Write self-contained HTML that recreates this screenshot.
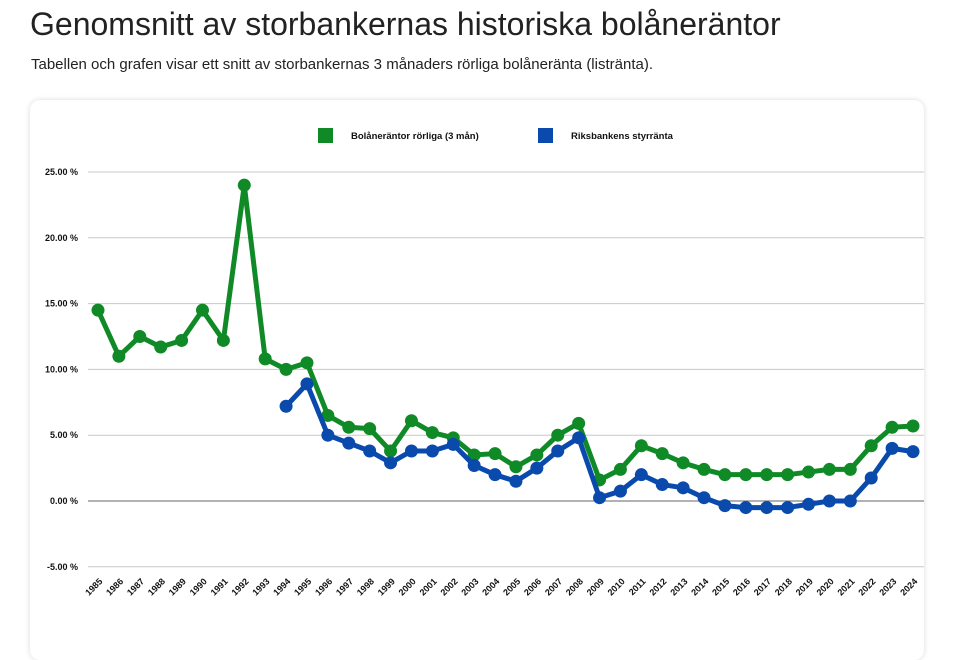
<!DOCTYPE html>
<html><head><meta charset="utf-8"><style>
body{margin:0;width:956px;height:625px;overflow:hidden;background:#fff;font-family:"Liberation Sans",sans-serif;}
h1{position:absolute;left:30px;top:6px;margin:0;font-size:32px;font-weight:400;color:#222;}
p{position:absolute;left:31px;top:56px;margin:0;font-size:15px;color:#222;}
.card{position:absolute;left:30px;top:100px;width:894px;height:560px;border-radius:10px;box-shadow:0 0 6px rgba(0,0,0,0.15);background:#fff;}
svg{position:absolute;left:0;top:0;}
</style></head><body>
<h1>Genomsnitt av storbankernas historiska bolåneräntor</h1>
<p>Tabellen och grafen visar ett snitt av storbankernas 3 månaders rörliga bolåneränta (listränta).</p>
<div class="card"></div>
<svg id="chart" width="956" height="625" font-family="Liberation Sans, sans-serif"></svg>
<script>
const years=[1985,1986,1987,1988,1989,1990,1991,1992,1993,1994,1995,1996,1997,1998,1999,2000,2001,2002,2003,2004,2005,2006,2007,2008,2009,2010,2011,2012,2013,2014,2015,2016,2017,2018,2019,2020,2021,2022,2023,2024];
const mortgageRates=[14.5,11.0,12.5,11.7,12.2,14.5,12.2,24.0,10.8,10.0,10.5,6.5,5.6,5.5,3.8,6.1,5.2,4.8,3.5,3.6,2.6,3.5,5.0,5.9,1.6,2.4,4.2,3.6,2.9,2.4,2.0,2.0,2.0,2.0,2.2,2.4,2.4,4.2,5.6,5.7];
const policyRates=[null,null,null,null,null,null,null,null,null,7.2,8.9,5.0,4.4,3.8,2.9,3.8,3.8,4.3,2.7,2.0,1.5,2.5,3.8,4.8,0.25,0.75,2.0,1.25,1.0,0.25,-0.35,-0.5,-0.5,-0.5,-0.25,0,0,1.75,4.0,3.75];
const yTicks=[-5,0,5,10,15,20,25];
const tickLabels=["-5.00 %","0.00 %","5.00 %","10.00 %","15.00 %","20.00 %","25.00 %"];
const svg=document.getElementById('chart');const NS='http://www.w3.org/2000/svg';
const yS=v=>501-v*13.16;
const xS=i=>98+i*(913-98)/(years.length-1);
function mk(t,a){const e=document.createElementNS(NS,t);for(const k in a)e.setAttribute(k,a[k]);svg.appendChild(e);return e;}
yTicks.forEach((v,i)=>{
 const l=mk('line',{x1:88,x2:924,y1:yS(v),y2:yS(v),stroke:v===0?'#666':'#c8c8c8','stroke-width':1});
 
 
 const t=mk('text',{x:78,y:yS(v)+3,'text-anchor':'end','font-size':9,'font-weight':'bold',fill:'#111'});
 t.textContent=tickLabels[i];
 
 
});
years.forEach((y,i)=>{
 const t=mk('text',{x:0,y:0,'text-anchor':'end','font-size':9,'font-weight':'bold',fill:'#111',transform:`translate(${xS(i)+5},${582}) rotate(-45)`});
 t.textContent=y;
 
 
});
function series(vals,color,name){
 let d='';vals.forEach((v,i)=>{if(v===null)return;d+=(d?'L':'M')+xS(i)+' '+yS(v);});
 const p=mk('path',{d:d,fill:'none',stroke:color,'stroke-width':5,'stroke-linejoin':'round'});
 
 
 vals.forEach((v,i)=>{if(v===null)return;
  const c=mk('circle',{cx:xS(i),cy:yS(v),r:6.5,fill:color});
  
  
 });
}
series(mortgageRates,'#0f8a26','mortgage-rate');
series(policyRates,'#0a4aad','policy-rate');
[[318,'#0f8a26','Bolåneräntor rörliga (3 mån)'],[538,'#0a4aad','Riksbankens styrränta']].forEach(([x,c,txt])=>{
 const r=mk('rect',{x:x,y:128,width:15,height:15,fill:c});
 
 
 const t=mk('text',{x:x+33,y:139,'font-size':9.5,'font-weight':'bold',fill:'#111'});
 t.textContent=txt;
 
 
});
</script>
</body></html>
